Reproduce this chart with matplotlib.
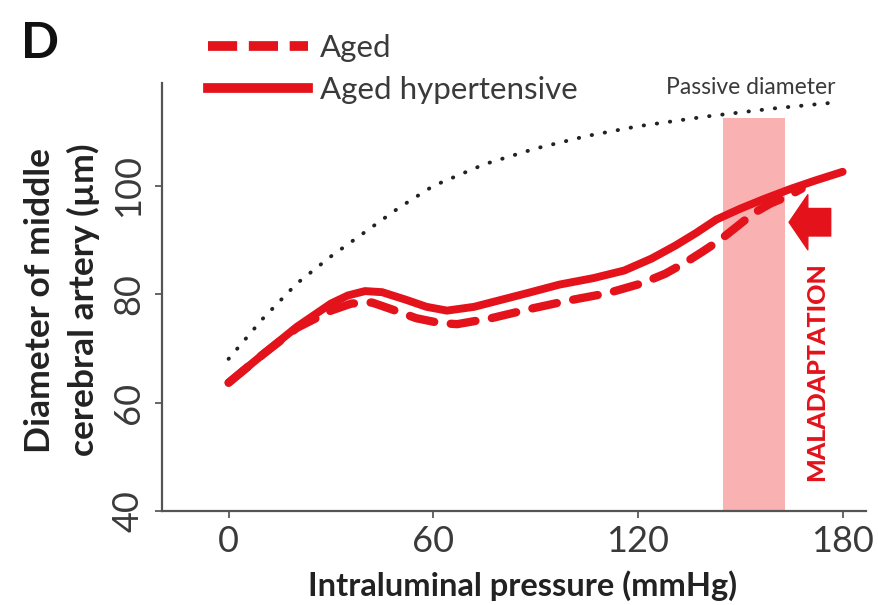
import numpy as np
import matplotlib.pyplot as plt
from matplotlib.lines import Line2D

#-----------------------
# Data (pressure in mmHg, diameter in um)
#-----------------------
pressure_hyp = [0, 10, 20, 30, 35, 40, 45, 52, 58, 64, 72, 80, 88, 97, 107,
                116, 124, 131, 137, 143, 150, 157, 165, 172, 180]
diam_hyp = [63.7, 68.9, 74.0, 78.3, 79.8, 80.6, 80.4, 79.0, 77.7, 77.0, 77.7,
            79.0, 80.3, 81.8, 83.0, 84.4, 86.6, 89.0, 91.3, 93.8, 95.8, 97.6,
            99.5, 101.0, 102.6]

pressure_aged = [0, 10, 20, 30, 36, 42, 48, 55, 62, 67, 77, 89, 100, 111, 121,
                 128, 134, 139, 144, 149, 154, 159, 164, 168]
diam_aged = [63.7, 68.9, 73.8, 77.0, 78.3, 78.5, 77.2, 75.6, 74.7, 74.5, 75.6,
             77.4, 78.9, 80.2, 82.0, 83.8, 85.9, 87.9, 90.0, 92.5, 95.0, 96.8,
             98.1, 99.5]

pressure_passive = [0, 10, 20, 30, 40, 50, 60, 75, 90, 105, 120, 140, 160, 178]
diam_passive = [68.1, 75.5, 82.0, 87.0, 91.5, 96.0, 100.0, 104.0, 106.9, 109.2,
                111.0, 112.8, 114.3, 115.4]

zone = (145, 163)
zone_top = 112.6

xticks = [0, 60, 120, 180]
yticks = [40, 60, 80, 100]

red = '#e3121b'
grey = '#3a3a3a'

plt.rcParams['font.family'] = ['Lato', 'DejaVu Sans']

fig = plt.figure(figsize=(8.79, 6.05), dpi=100)
ax = fig.add_axes([0.184, 0.155, 0.801, 0.708])

# maladaptation zone
ax.fill_between(zone, 40, zone_top, color='#f9b1b1', lw=0, zorder=1)

ax.plot(pressure_passive, diam_passive, color='#222222', lw=2.8,
        linestyle=(0, (0.1, 3.3)), dash_capstyle='round', zorder=2)
ax.plot(pressure_aged, diam_aged, color=red, lw=6.0,
        linestyle=(0, (3.0, 2.0)), dash_capstyle='round', zorder=3)
ax.plot(pressure_hyp, diam_hyp, color=red, lw=5.7,
        solid_capstyle='round', solid_joinstyle='round', zorder=4)

ax.annotate('', xy=(164.3, 93.3), xytext=(176.5, 93.3),
            arrowprops=dict(arrowstyle='simple,head_length=0.75,head_width=2.2,tail_width=1.1',
                            mutation_scale=18, color=red, shrinkA=0, shrinkB=0),
            zorder=5)
ax.text(172.4, 65.7, 'MALADAPTATION', rotation=90, color=red,
        fontsize=18, fontweight='black', ha='center', va='center')
ax.text(153.0, 118.2, 'Passive diameter', color=grey, fontsize=16.5,
        ha='center', va='center', clip_on=False)

ax.set_xlim(-19.6, 186.8)
ax.set_ylim(40, 119)
ax.set_xticks(xticks)
ax.set_yticks(yticks)
for side in ['top', 'right']:
    ax.spines[side].set_visible(False)
for side in ['left', 'bottom']:
    ax.spines[side].set_color('#555555')
    ax.spines[side].set_linewidth(1.6)
ax.tick_params(axis='both', colors='#666666', length=5, width=1.4,
               labelsize=26, labelcolor=grey)
ax.tick_params(axis='x', pad=5)
ax.tick_params(axis='y', pad=7, labelrotation=90)
for lab in ax.get_yticklabels():
    lab.set_va('center')

ax.set_xlabel('Intraluminal pressure (mmHg)', fontsize=23.5, fontweight='bold',
              color='#222222')
ax.set_ylabel('Diameter of middle\ncerebral artery (µm)', fontsize=25.5,
              fontweight='bold', color='#222222', linespacing=1.4)
ax.xaxis.label.set_va('center')
ax.yaxis.label.set_va('center')
ax.xaxis.set_label_coords(0.513, -0.173)
ax.yaxis.set_label_coords(-0.141, 0.493)

handles = [Line2D([], [], color=red, lw=7, linestyle=(0, (3.0, 1.2))),
           Line2D([], [], color=red, lw=7)]
fig.legend(handles, ['Aged', 'Aged hypertensive'], loc='upper left',
           bbox_to_anchor=(0.222, 0.965), frameon=False, fontsize=22.5,
           handlelength=3.2, handletextpad=0.4, labelspacing=0.45,
           labelcolor=grey, borderaxespad=0)

fig.text(0.024, 0.904, 'D', fontsize=36, fontweight='bold', color='#111111',
         va='baseline')

plt.savefig('out.png', dpi=100)
